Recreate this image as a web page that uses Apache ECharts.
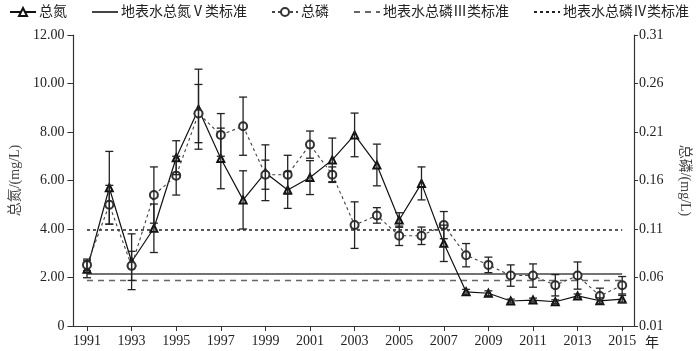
<!DOCTYPE html>
<html><head><meta charset="utf-8">
<script src="https://cdn.jsdelivr.net/npm/echarts@6/dist/echarts.min.js"></script>
<style>html,body{margin:0;padding:0;background:#fff}#c{width:700px;height:351px}</style>
</head><body><div id="c"></div>
<script>
const years = [1991,1992,1993,1994,1995,1996,1997,1998,1999,2000,2001,2002,2003,2004,2005,2006,2007,2008,2009,2010,2011,2012,2013,2014,2015];
const tnValues = [2.34,5.70,2.65,4.03,6.94,8.94,6.91,5.20,6.32,5.61,6.12,6.85,7.88,6.64,4.37,5.88,3.41,1.41,1.35,1.03,1.07,1.00,1.24,1.04,1.11];
const tnErrors = [0.35,1.50,1.15,1.00,0.70,1.65,1.25,1.20,1.15,0.76,0.70,0.90,0.90,0.86,0.30,0.68,0.75,0.10,0.10,0.08,0.08,0.08,0.08,0.12,0.15];
const tpValues = [0.073,0.135,0.072,0.145,0.165,0.229,0.207,0.216,0.166,0.166,0.197,0.166,0.114,0.124,0.103,0.103,0.114,0.083,0.073,0.062,0.062,0.052,0.062,0.041,0.052];
const tpErrors = [0.006,0.020,0.015,0.029,0.020,0.030,0.022,0.030,0.015,0.020,0.014,0.008,0.024,0.008,0.010,0.009,0.014,0.012,0.008,0.011,0.012,0.011,0.014,0.008,0.009];
const xTickYears = [1991,1993,1995,1997,1999,2001,2003,2005,2007,2009,2011,2013,2015];
const tnStandardV = 2.14;     // 地表水总氮Ⅴ类标准 (left axis)
const tpStandardIII = 0.057;  // 地表水总磷Ⅲ类标准 (right axis)
const tpStandardIV = 0.109;   // 地表水总磷Ⅳ类标准 (right axis)
const names = ['总氮','地表水总氮Ⅴ类标准','总磷','地表水总磷Ⅲ类标准','地表水总磷Ⅳ类标准'];

const FONT = '"Liberation Serif","Noto Sans CJK SC",serif';
const span = [years[0], years[years.length-1]];
const HIDDEN = {color:'rgba(0,0,0,0)', borderColor:'rgba(0,0,0,0)', borderWidth:0};

function errRender(params, api){
  const x = api.value(0), lo = api.value(1), hi = api.value(2);
  const a = api.coord([x, lo]), b = api.coord([x, hi]);
  const hw = 4, st = {stroke:'#222', lineWidth:1.3};
  return {type:'group', children:[
    {type:'line', shape:{x1:a[0],y1:a[1],x2:b[0],y2:b[1]}, style:st},
    {type:'line', shape:{x1:a[0]-hw,y1:a[1],x2:a[0]+hw,y2:a[1]}, style:st},
    {type:'line', shape:{x1:b[0]-hw,y1:b[1],x2:b[0]+hw,y2:b[1]}, style:st}
  ]};
}

const chart = echarts.init(document.getElementById('c'), null, {renderer:'canvas'});
chart.setOption({
  animation:false,
  backgroundColor:'#fff',
  textStyle:{fontFamily:FONT},
  legend:{
    data:names, left:4, top:0, itemGap:24, itemWidth:26, itemHeight:10,
    textStyle:{fontFamily:FONT, fontSize:14, color:'#222', padding:[0,0,0,-2]}
  },
  grid:{left:61.5, right:59.5, top:35, bottom:25},
  xAxis:{
    type:'value', min:1990.39, max:2015.53,
    name:'年', nameLocation:'end', nameGap:11,
    nameTextStyle:{fontFamily:FONT, fontSize:14, color:'#222', verticalAlign:'top', padding:[10,0,0,0]},
    axisLine:{lineStyle:{color:'#333', width:1.2}},
    axisTick:{customValues:xTickYears, length:5, lineStyle:{color:'#333'}},
    axisLabel:{customValues:xTickYears, margin:8, fontSize:14, color:'#222', fontFamily:FONT, formatter:v=>String(Math.round(v))},
    splitLine:{show:false}
  },
  yAxis:[{
    type:'value', min:0, max:12, interval:2, position:'left',
    name:'总氮/(mg/L)', nameLocation:'middle', nameGap:32,
    nameTextStyle:{fontFamily:FONT, fontSize:14, color:'#444'},
    axisLine:{show:true, lineStyle:{color:'#333', width:1.2}},
    axisTick:{show:true, length:6, lineStyle:{color:'#333'}},
    axisLabel:{margin:9, fontSize:14, color:'#222', fontFamily:FONT, formatter:v=> v===0?'0':v.toFixed(2)},
    splitLine:{show:false}
  },{
    type:'value', min:0.01, max:0.31, interval:0.05, position:'right',
    name:'总磷/(mg/L)', nameLocation:'middle', nameGap:44, nameRotate:-90,
    nameTextStyle:{fontFamily:FONT, fontSize:14, color:'#444'},
    axisLine:{show:true, lineStyle:{color:'#333', width:1.2}},
    axisTick:{show:true, length:4, lineStyle:{color:'#333'}},
    axisLabel:{margin:5, fontSize:14, color:'#222', fontFamily:FONT, formatter:v=>v.toFixed(2)},
    splitLine:{show:false}
  }],
  series:[
    {name:names[0], type:'line', yAxisIndex:0, data:years.map((y,i)=>[y,tnValues[i]]),
     symbol:'emptyTriangle', symbolSize:7, z:3,
     lineStyle:{color:'#111', width:1.2}, itemStyle:{color:'#111', borderColor:'#111', borderWidth:1.1}},
    {name:names[1], type:'line', yAxisIndex:0, data:[[span[0],tnStandardV],[span[1],tnStandardV]],
     symbol:'rect', showSymbol:false, z:2, lineStyle:{color:'#444', width:1.5}, itemStyle:HIDDEN},
    {name:names[2], type:'line', yAxisIndex:1, data:years.map((y,i)=>[y,tpValues[i]]),
     symbol:'emptyCircle', symbolSize:8, z:3,
     lineStyle:{color:'#444', width:1.1, type:[3,3]}, itemStyle:{color:'#333', borderColor:'#333', borderWidth:1.1}},
    {name:names[3], type:'line', yAxisIndex:1, data:[[span[0],tpStandardIII],[span[1],tpStandardIII]],
     symbol:'rect', showSymbol:false, z:2, lineStyle:{color:'#666', width:1.5, type:[6,5]}, itemStyle:HIDDEN},
    {name:names[4], type:'line', yAxisIndex:1, data:[[span[0],tpStandardIV],[span[1],tpStandardIV]],
     symbol:'rect', showSymbol:false, z:2, lineStyle:{color:'#222', width:1.5, type:[3,3]}, itemStyle:HIDDEN},
    {name:'tnErr', type:'custom', yAxisIndex:0, renderItem:errRender, z:4,
     encode:{x:0, y:[1,2]},
     data:years.map((y,i)=>[y, tnValues[i]-tnErrors[i], tnValues[i]+tnErrors[i]])},
    {name:'tpErr', type:'custom', yAxisIndex:1, renderItem:errRender, z:4,
     encode:{x:0, y:[1,2]},
     data:years.map((y,i)=>[y, tpValues[i]-tpErrors[i], tpValues[i]+tpErrors[i]])}
  ]
});
</script></body></html>
